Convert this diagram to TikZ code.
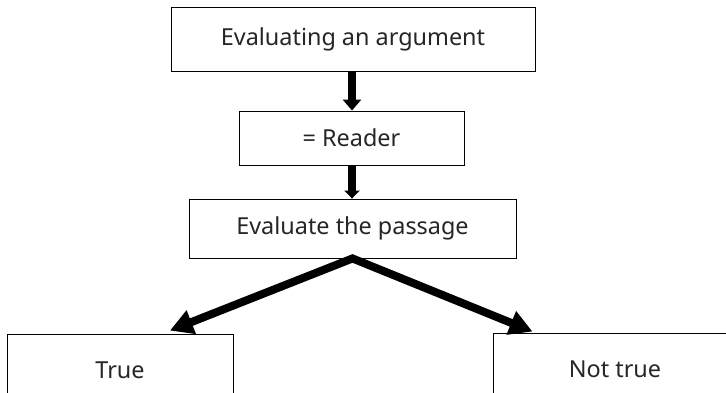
\documentclass[tikz,border=0pt]{standalone}
\usepackage{fontspec}
\setmainfont{Noto Sans}
\usetikzlibrary{arrows.meta,calc}
\begin{document}
\begin{tikzpicture}[x=1bp,y=-1bp,
  box/.style={draw=black,line width=0.9bp,fill=white,inner sep=0pt,text=black!85,font=\fontsize{23.5}{28}\selectfont},
  vflow/.style={line width=8bp,-{Triangle[width=18bp,length=11bp]}},
  dflow/.style={line width=8bp,line join=miter,{Triangle[width=24bp,length=23bp]}-{Triangle[width=24bp,length=23bp]}}]
\useasboundingbox (0,0) rectangle (726,392);
\clip (0,0) rectangle (726,392);
\node[box,minimum width=364bp,minimum height=64bp] (b1) at (353,39) {Evaluating an argument};
\node[box,minimum width=225bp,minimum height=54bp] (b2) at (351.5,138) {= Reader};
\node[box,minimum width=327bp,minimum height=59bp] (b3) at (352.5,228.5) {Evaluate the passage};
\node[box,minimum width=226bp,minimum height=72bp] (t) at (120,370) {True};
\node[box,minimum width=244bp,minimum height=73bp] (n) at (615,369.5) {Not true};
\draw[vflow] (b1.south -| 352,0) -- (b2.north -| 352,0);
\draw[vflow,-{Triangle[width=15bp,length=8bp]}] (b2.south -| 352,0) -- (b3.north -| 352,0);
\draw[dflow] ($(t.north west)!0.72!(t.north east)+(0,-3)$) -- (b3.south) -- ($(n.north west)+(40,-1)$);
\end{tikzpicture}
\end{document}
